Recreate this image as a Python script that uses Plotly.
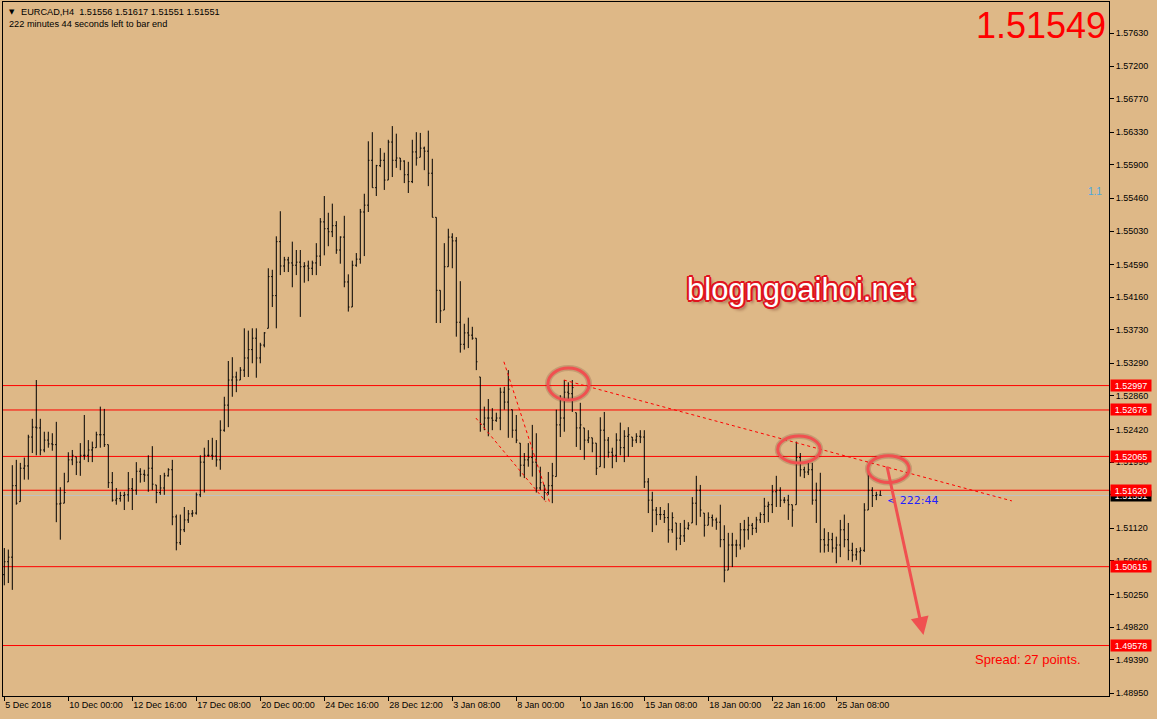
import plotly.graph_objects as go

# ---------------- data (EURCAD H4) ----------------
bar_open = [
    1.5051, 1.5068, 1.5074, 1.5168, 1.5147, 1.5191, 1.5194, 1.5232, 1.5245, 1.5244,
    1.5215, 1.5228, 1.5223, 1.5222, 1.5144, 1.5145, 1.5173, 1.5202, 1.5206, 1.5199,
    1.5208, 1.5208, 1.5215, 1.5218, 1.5235, 1.5235, 1.5222, 1.5172, 1.5149, 1.5151,
    1.5155, 1.5156, 1.5164, 1.5162, 1.5187, 1.5183, 1.5182, 1.5191, 1.5169, 1.5159,
    1.5165, 1.5181, 1.5189, 1.5127, 1.5093, 1.5110, 1.5123, 1.5131, 1.5132, 1.5156,
    1.5199, 1.5208, 1.5208, 1.5207, 1.5202, 1.5241, 1.5274, 1.5307, 1.5311, 1.5307,
    1.5320, 1.5336, 1.5347, 1.5362, 1.5336, 1.5353, 1.5375, 1.5443, 1.5418, 1.5489,
    1.5457, 1.5465, 1.5461, 1.5458, 1.5462, 1.5456, 1.5457, 1.5454, 1.5461, 1.5470,
    1.5515, 1.5506, 1.5502, 1.5510, 1.5478, 1.5495, 1.5436, 1.5403, 1.5458, 1.5466,
    1.5528, 1.5537, 1.5596, 1.5560, 1.5589, 1.5596, 1.5570, 1.5620, 1.5596, 1.5599,
    1.5595, 1.5577, 1.5568, 1.5607, 1.5600, 1.5612, 1.5608, 1.5579, 1.5521, 1.5425,
    1.5399, 1.5456, 1.5495, 1.5490, 1.5383, 1.5354, 1.5369, 1.5366, 1.5362, 1.5311,
    1.5249, 1.5257, 1.5257, 1.5254, 1.5257, 1.5291, 1.5278, 1.5268, 1.5241, 1.5224,
    1.5195, 1.5202, 1.5205, 1.5199, 1.5165, 1.5169, 1.5159, 1.5168, 1.5180, 1.5248,
    1.5257, 1.5291, 1.5289, 1.5264, 1.5244, 1.5244, 1.5228, 1.5231, 1.5224, 1.5193,
    1.5241, 1.5228, 1.5212, 1.5208, 1.5228, 1.5218, 1.5233, 1.5232, 1.5228, 1.5233,
    1.5232, 1.5173, 1.5149, 1.5136, 1.5130, 1.5130, 1.5126, 1.5110, 1.5119, 1.5099,
    1.5102, 1.5112, 1.5119, 1.5145, 1.5162, 1.5132, 1.5116, 1.5126, 1.5123, 1.5120,
    1.5097, 1.5057, 1.5090, 1.5090, 1.5090, 1.5110, 1.5110, 1.5116, 1.5112, 1.5123,
    1.5130, 1.5141, 1.5143, 1.5160, 1.5162, 1.5149, 1.5149, 1.5143, 1.5143, 1.5205,
    1.5189, 1.5186, 1.5189, 1.5149, 1.5162, 1.5097, 1.5090, 1.5097, 1.5086, 1.5090,
    1.5110, 1.5097, 1.5083, 1.5077, 1.5081, 1.5083, 1.5136, 1.5162, 1.5155, 1.51556,
]
bar_high = [
    1.5086, 1.5084, 1.5195, 1.5202, 1.5198, 1.5205, 1.5235, 1.5256, 1.5307, 1.5256,
    1.5239, 1.5239, 1.5237, 1.5252, 1.5166, 1.5185, 1.5212, 1.5215, 1.5206, 1.5224,
    1.5261, 1.5228, 1.5226, 1.5239, 1.5272, 1.5269, 1.5222, 1.5186, 1.5165, 1.5160,
    1.5160, 1.5186, 1.5178, 1.5199, 1.5191, 1.5189, 1.5208, 1.5220, 1.5169, 1.5182,
    1.5185, 1.5191, 1.5202, 1.5130, 1.5130, 1.5140, 1.5136, 1.5136, 1.5159, 1.5208,
    1.5218, 1.5228, 1.5231, 1.5228, 1.5254, 1.5285, 1.5332, 1.5337, 1.5318, 1.5324,
    1.5375, 1.5372, 1.5375, 1.5375, 1.5356, 1.5370, 1.5454, 1.5452, 1.5496, 1.5529,
    1.5469, 1.5469, 1.5489, 1.5478, 1.5478, 1.5462, 1.5464, 1.5464, 1.5487, 1.5520,
    1.5549, 1.5527, 1.5539, 1.5516, 1.5496, 1.5523, 1.5446, 1.5464, 1.5474, 1.5532,
    1.5552, 1.5621, 1.5633, 1.5590, 1.5612, 1.5606, 1.5623, 1.5641, 1.5631, 1.5599,
    1.5596, 1.5594, 1.5623, 1.5633, 1.5632, 1.5614, 1.5635, 1.5598, 1.5521, 1.5425,
    1.5487, 1.5506, 1.5500, 1.5495, 1.5437, 1.5381, 1.5389, 1.5377, 1.5362, 1.5311,
    1.5272, 1.5282, 1.5270, 1.5264, 1.5297, 1.5298, 1.5320, 1.5268, 1.5261, 1.5224,
    1.5211, 1.5224, 1.5248, 1.5237, 1.5193, 1.5169, 1.5186, 1.5198, 1.5268, 1.5287,
    1.5307, 1.5304, 1.5307, 1.5264, 1.5277, 1.5244, 1.5241, 1.5231, 1.5224, 1.5258,
    1.5265, 1.5232, 1.5218, 1.5237, 1.5251, 1.5241, 1.5245, 1.5232, 1.5237, 1.5241,
    1.5241, 1.5178, 1.5160, 1.5140, 1.5140, 1.5136, 1.5145, 1.5133, 1.5119, 1.5119,
    1.5123, 1.5120, 1.5153, 1.5181, 1.5169, 1.5132, 1.5133, 1.5130, 1.5126, 1.5143,
    1.5116, 1.5106, 1.5106, 1.5097, 1.5119, 1.5123, 1.5127, 1.5119, 1.5127, 1.5133,
    1.5152, 1.5147, 1.5169, 1.5181, 1.5166, 1.5153, 1.5156, 1.5143, 1.5226, 1.5211,
    1.5193, 1.5198, 1.5198, 1.5172, 1.5185, 1.5112, 1.5107, 1.5106, 1.5101, 1.5123,
    1.5130, 1.5119, 1.5093, 1.5086, 1.5087, 1.5145, 1.5185, 1.5166, 1.5160, 1.51617,
]
bar_low = [
    1.5037, 1.5040, 1.5031, 1.5143, 1.5147, 1.5176, 1.5176, 1.5211, 1.5208, 1.5208,
    1.5212, 1.5218, 1.5214, 1.5120, 1.5097, 1.5145, 1.5173, 1.5195, 1.5182, 1.5181,
    1.5202, 1.5199, 1.5199, 1.5218, 1.5218, 1.5219, 1.5165, 1.5147, 1.5143, 1.5147,
    1.5136, 1.5147, 1.5136, 1.5156, 1.5172, 1.5173, 1.5160, 1.5162, 1.5145, 1.5156,
    1.5156, 1.5180, 1.5116, 1.5083, 1.5090, 1.5107, 1.5119, 1.5127, 1.5130, 1.5153,
    1.5159, 1.5206, 1.5202, 1.5193, 1.5189, 1.5239, 1.5245, 1.5285, 1.5291, 1.5307,
    1.5311, 1.5311, 1.5329, 1.5310, 1.5329, 1.5350, 1.5375, 1.5403, 1.5375, 1.5445,
    1.5449, 1.5449, 1.5429, 1.5445, 1.5390, 1.5435, 1.5437, 1.5445, 1.5445, 1.5457,
    1.5471, 1.5483, 1.5495, 1.5473, 1.5460, 1.5429, 1.5397, 1.5403, 1.5456, 1.5460,
    1.5470, 1.5528, 1.5560, 1.5549, 1.5587, 1.5557, 1.5570, 1.5574, 1.5586, 1.5583,
    1.5566, 1.5553, 1.5566, 1.5589, 1.5600, 1.5583, 1.5562, 1.5521, 1.5382, 1.5382,
    1.5399, 1.5456, 1.5454, 1.5364, 1.5343, 1.5347, 1.5349, 1.5360, 1.5320, 1.5239,
    1.5241, 1.5233, 1.5241, 1.5252, 1.5241, 1.5268, 1.5231, 1.5231, 1.5224, 1.5180,
    1.5178, 1.5193, 1.5180, 1.5159, 1.5162, 1.5149, 1.5156, 1.5145, 1.5180, 1.5232,
    1.5239, 1.5281, 1.5265, 1.5219, 1.5215, 1.5202, 1.5224, 1.5212, 1.5182, 1.5193,
    1.5191, 1.5205, 1.5191, 1.5199, 1.5208, 1.5199, 1.5206, 1.5219, 1.5224, 1.5224,
    1.5165, 1.5132, 1.5107, 1.5116, 1.5123, 1.5119, 1.5093, 1.5106, 1.5083, 1.5090,
    1.5094, 1.5110, 1.5119, 1.5116, 1.5127, 1.5101, 1.5116, 1.5114, 1.5110, 1.5087,
    1.5041, 1.5057, 1.5061, 1.5074, 1.5084, 1.5087, 1.5097, 1.5103, 1.5106, 1.5119,
    1.5119, 1.5120, 1.5132, 1.5140, 1.5140, 1.5145, 1.5123, 1.5114, 1.5143, 1.5180,
    1.5178, 1.5182, 1.5143, 1.5119, 1.5080, 1.5080, 1.5081, 1.5080, 1.5066, 1.5074,
    1.5087, 1.5070, 1.5068, 1.5070, 1.5064, 1.5081, 1.5136, 1.5140, 1.5149, 1.51551,
]
bar_close = [
    1.5068, 1.5074, 1.5168, 1.5145, 1.5191, 1.5194, 1.5232, 1.5245, 1.5244, 1.5215,
    1.5228, 1.5223, 1.5222, 1.5144, 1.5145, 1.5159, 1.5202, 1.5208, 1.5199, 1.5208,
    1.5208, 1.5215, 1.5218, 1.5235, 1.5235, 1.5222, 1.5172, 1.5149, 1.5151, 1.5155,
    1.5156, 1.5164, 1.5162, 1.5187, 1.5183, 1.5182, 1.5191, 1.5170, 1.5159, 1.5165,
    1.5181, 1.5189, 1.5127, 1.5093, 1.5110, 1.5123, 1.5131, 1.5132, 1.5156, 1.5199,
    1.5208, 1.5208, 1.5207, 1.5202, 1.5241, 1.5274, 1.5307, 1.5311, 1.5307, 1.5320,
    1.5336, 1.5347, 1.5362, 1.5336, 1.5353, 1.5369, 1.5443, 1.5418, 1.5489, 1.5457,
    1.5465, 1.5461, 1.5458, 1.5462, 1.5456, 1.5457, 1.5454, 1.5461, 1.5470, 1.5515,
    1.5506, 1.5502, 1.5510, 1.5478, 1.5495, 1.5436, 1.5403, 1.5458, 1.5466, 1.5528,
    1.5537, 1.5596, 1.5560, 1.5589, 1.5596, 1.5570, 1.5620, 1.5596, 1.5599, 1.5595,
    1.5577, 1.5568, 1.5607, 1.5599, 1.5612, 1.5608, 1.5579, 1.5521, 1.5425, 1.5398,
    1.5456, 1.5495, 1.5490, 1.5383, 1.5354, 1.5369, 1.5366, 1.5362, 1.5331, 1.5249,
    1.5257, 1.5257, 1.5254, 1.5257, 1.5291, 1.5278, 1.5295, 1.5241, 1.5228, 1.5195,
    1.5202, 1.5205, 1.5199, 1.5165, 1.5172, 1.5159, 1.5168, 1.5181, 1.5248, 1.5257,
    1.5291, 1.5289, 1.5297, 1.5244, 1.5248, 1.5228, 1.5231, 1.5224, 1.5191, 1.5241,
    1.5228, 1.5212, 1.5208, 1.5228, 1.5218, 1.5233, 1.5235, 1.5228, 1.5233, 1.5232,
    1.5173, 1.5149, 1.5136, 1.5130, 1.5130, 1.5126, 1.5110, 1.5126, 1.5099, 1.5102,
    1.5112, 1.5116, 1.5145, 1.5162, 1.5136, 1.5116, 1.5126, 1.5123, 1.5120, 1.5097,
    1.5057, 1.5090, 1.5090, 1.5090, 1.5110, 1.5110, 1.5116, 1.5112, 1.5123, 1.5130,
    1.5141, 1.5143, 1.5160, 1.5162, 1.5149, 1.5149, 1.5143, 1.5136, 1.5205, 1.5189,
    1.5186, 1.5189, 1.5149, 1.5162, 1.5097, 1.5090, 1.5097, 1.5086, 1.5090, 1.5110,
    1.5097, 1.5083, 1.5077, 1.5081, 1.5083, 1.5136, 1.5162, 1.5155, 1.5156, 1.51551,
]
bar_index = list(range(len(bar_close)))

time_tick_index = [0, 16, 32, 48, 64, 80, 96, 112, 128, 144, 160, 176, 192, 208]
time_tick_labels = ["5 Dec 2018", "10 Dec 00:00", "12 Dec 16:00", "17 Dec 08:00",
                    "20 Dec 00:00", "24 Dec 16:00", "28 Dec 12:00", "3 Jan 08:00",
                    "8 Jan 00:00", "10 Jan 16:00", "15 Jan 08:00", "18 Jan 00:00",
                    "22 Jan 16:00", "25 Jan 08:00"]

price_ticks = [1.57630, 1.57200, 1.56770, 1.56330, 1.55900, 1.55460, 1.55030,
               1.54590, 1.54160, 1.53730, 1.53290, 1.52860, 1.52420, 1.51990,
               1.51560, 1.51120, 1.50690, 1.50250, 1.49820, 1.49390, 1.48950]
hidden_tick_labels = [1.51560]   # fully covered by the current-price box

level_prices = [1.52997, 1.52676, 1.52065, 1.51620, 1.50615, 1.49578]
current_price = 1.51551
big_price_text = "1.51549"

# dotted trend lines (bar index, price)
trend_x0 = [124.9, 117.9, 139.9]
trend_y0 = [1.5331, 1.5257, 1.5307]
trend_x1 = [136.4, 135.4, 251.9]
trend_y1 = [1.5145, 1.5147, 1.5148]

# highlight ellipses (bar index / price bounds)
ell_x0 = [135.9, 193.35, 215.9]
ell_x1 = [146.2, 204.0, 226.2]
ell_y0 = [1.52807, 1.51979, 1.51722]
ell_y1 = [1.53228, 1.52334, 1.52075]

# arrow (tail -> head)
arrow_tail = (220.6, 1.51952)
arrow_head = (229.8, 1.49717)

# ---------------- styling ----------------
BG = "#DEB887"
FONT = "Liberation Sans, Arial, sans-serif"
W, H = 1157, 719
ML, MR, MT, MB = 3, 48, 2, 23
PW, PH = W - ML - MR, H - MT - MB


def px(xpix):
    return (xpix - ML) / PW


def py(ypix):
    return 1 - (ypix - MT) / PH


fig = go.Figure()
fig.add_trace(go.Ohlc(
    x=bar_index, open=bar_open, high=bar_high, low=bar_low, close=bar_close,
    increasing=dict(line=dict(color="black", width=1)),
    decreasing=dict(line=dict(color="black", width=1)),
    tickwidth=0.3, hoverinfo="skip", showlegend=False,
))

shapes = []
for lv in level_prices:
    shapes.append(dict(type="line", xref="paper", x0=0, x1=1, yref="y", y0=lv, y1=lv,
                       line=dict(color="#FF0000", width=1), layer="below"))
shapes.append(dict(type="line", xref="paper", x0=0, x1=1, yref="y",
                   y0=current_price, y1=current_price,
                   line=dict(color="#C0C0C0", width=1), layer="below"))
for a, b, c, d in zip(trend_x0, trend_y0, trend_x1, trend_y1):
    shapes.append(dict(type="line", xref="x", yref="y", x0=a, y0=b, x1=c, y1=d,
                       line=dict(color="#FF0000", width=1, dash="dot")))
for a, b, c, d in zip(ell_x0, ell_x1, ell_y0, ell_y1):
    shapes.append(dict(type="circle", xref="x", yref="y", x0=a, x1=b, y0=c, y1=d,
                       line=dict(color="rgba(110,60,40,0.22)", width=6)))
    shapes.append(dict(type="circle", xref="x", yref="y", x0=a, x1=b, y0=c, y1=d,
                       line=dict(color="#F05050", width=3)))

ann = []
# current price box first, so the red level boxes sit on top of it
ann.append(dict(xref="paper", yref="y", x=1, y=current_price, xanchor="left",
                yanchor="middle", xshift=1, text=f"{current_price:.5f}", showarrow=False,
                bgcolor="black", width=40, height=10, borderpad=0,
                font=dict(family=FONT, size=9, color="white")))
for lv in level_prices:
    ann.append(dict(xref="paper", yref="y", x=1, y=lv, xanchor="left", yanchor="middle",
                    xshift=1, text=f"{lv:.5f}", showarrow=False, bgcolor="#FF0000",
                    width=40, height=11, borderpad=0,
                    font=dict(family=FONT, size=9, color="white")))

# header
ann.append(dict(xref="paper", yref="paper", x=px(7), y=py(12), xanchor="left",
                yanchor="middle", text="▼", showarrow=False,
                font=dict(family="DejaVu Sans", size=7, color="black")))
ann.append(dict(xref="paper", yref="paper", x=px(19), y=py(12), xanchor="left",
                yanchor="middle", text="EURCAD,H4  1.51556 1.51617 1.51551 1.51551",
                showarrow=False, font=dict(family=FONT, size=9.2, color="black")))
ann.append(dict(xref="paper", yref="paper", x=px(7), y=py(24), xanchor="left",
                yanchor="middle", text="222 minutes 44 seconds left to bar end",
                showarrow=False, font=dict(family=FONT, size=9.2, color="black")))

# big price
ann.append(dict(xref="paper", yref="paper", x=px(1108), y=py(25), xanchor="right",
                yanchor="middle", text=big_price_text, showarrow=False,
                font=dict(family=FONT, size=36, color="#FF0000")))
ann.append(dict(xref="paper", yref="paper", x=px(1104), y=py(192), xanchor="right",
                yanchor="middle", text="1.1", showarrow=False,
                font=dict(family=FONT, size=10, color="#4AA8E0")))

# watermark text with red outline (via text-shadow)
OC = "#E0141E"
outline = ", ".join(f"{dx}px {dy}px 0 {OC}" for dx, dy in
                    [(-2, 0), (2, 0), (0, -2), (0, 2), (-1, -1), (1, -1), (-1, 1),
                     (1, 1), (-2, -1), (2, 1), (-1, 2), (1, -2)])
outline += ", 3px 3px 3px rgba(90,20,10,0.45)"
ann.append(dict(xref="paper", yref="paper", x=px(801), y=py(290), xanchor="center",
                yanchor="middle", text="blogngoaihoi.net", showarrow=False,
                font=dict(family=FONT, size=31, color="white", shadow=outline)))

# timer and spread
ann.append(dict(xref="x", yref="y", x=220.2, y=1.5148, xanchor="left", yanchor="middle",
                text="< 222:44", showarrow=False,
                font=dict(family="DejaVu Sans", size=11, color="#2020FF")))
ann.append(dict(xref="paper", yref="paper", x=px(973), y=py(659), xanchor="left",
                yanchor="middle", text="Spread: 27 points.", showarrow=False,
                font=dict(family=FONT, size=13, color="#FF0000")))

# arrow
ann.append(dict(xref="x", yref="y", x=arrow_head[0], y=arrow_head[1],
                axref="x", ayref="y", ax=arrow_tail[0], ay=arrow_tail[1],
                text="", showarrow=True, arrowhead=2, arrowsize=1.2, arrowwidth=3,
                arrowcolor="#F05050"))

fig.update_layout(
    width=W, height=H,
    margin=dict(l=ML, r=MR, t=MT, b=MB, pad=0),
    paper_bgcolor=BG, plot_bgcolor=BG,
    showlegend=False,
    shapes=shapes, annotations=ann,
    xaxis=dict(range=[-0.325, 276.175], rangeslider=dict(visible=False),
               showgrid=False, zeroline=False, showline=True, linecolor="black",
               linewidth=1, mirror=True, ticks="outside", ticklen=4, tickcolor="black",
               tickvals=time_tick_index, ticktext=time_tick_labels,
               ticklabelposition="outside right",
               tickfont=dict(family=FONT, size=9, color="black")),
    yaxis=dict(side="right", range=[1.48914, 1.58042], showgrid=False, zeroline=False,
               showline=True, linecolor="black", linewidth=1, mirror=True,
               ticks="outside", ticklen=4, tickcolor="black",
               tickvals=price_ticks,
               ticktext=["" if v in hidden_tick_labels else f"{v:.5f}" for v in price_ticks],
               tickfont=dict(family=FONT, size=9, color="black")),
)

fig.write_html("out.html", config={"displayModeBar": False})

# remove the browser's default page margin so the figure sits at the top-left corner
with open("out.html", "r", encoding="utf-8") as fh:
    page = fh.read()
page = page.replace("<head>", "<head><style>html,body{margin:0;padding:0;background:#DEB887;overflow:hidden;}</style>", 1)
with open("out.html", "w", encoding="utf-8") as fh:
    fh.write(page)
